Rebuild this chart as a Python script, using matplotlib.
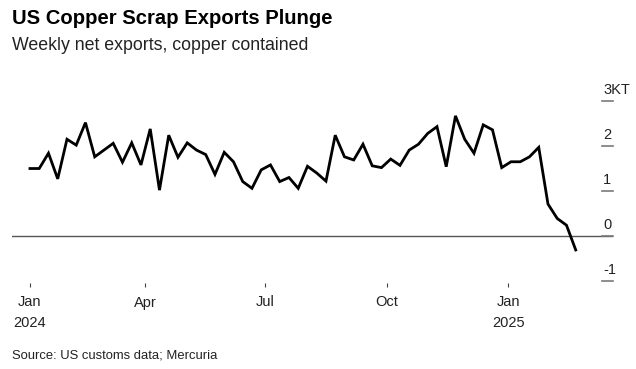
import matplotlib
matplotlib.use('Agg')
import matplotlib.pyplot as plt
import matplotlib.transforms as mtransforms
import pandas as pd

width = 636
height = 369
dpi = 100
figsize = (width/dpi, height/dpi)

# weekly net exports, thousand tonnes copper contained
dates = pd.date_range('2024-01-05', periods=60, freq='W-FRI')
exports = [
    1.50, 1.50, 1.84, 1.27, 2.15, 2.02, 2.52, 1.76, 1.91, 2.06,
    1.64, 2.07, 1.58, 2.38, 1.02, 2.24, 1.75, 2.07, 1.91, 1.81,
    1.37, 1.86, 1.65, 1.21, 1.06, 1.47, 1.58, 1.21, 1.30, 1.06,
    1.55, 1.40, 1.22, 2.24, 1.76, 1.69, 2.04, 1.56, 1.52, 1.71,
    1.57, 1.91, 2.04, 2.28, 2.43, 1.54, 2.67, 2.15, 1.84, 2.47,
    2.36, 1.52, 1.65, 1.65, 1.76, 1.97, 0.71, 0.39, 0.24, -0.31,
]

y_ticks = [3, 2, 1, 0, -1]
y_labels = ['3KT', '2', '1', '0', '-1']
x_ticks = pd.to_datetime(['2024-01-05', '2024-04-01', '2024-07-01',
                          '2024-10-01', '2025-01-01'])
x_labels = ['Jan\n2024', 'Apr', 'Jul', 'Oct', 'Jan\n2025']

plt.rcParams['font.family'] = ['Liberation Sans', 'DejaVu Sans']

fig = plt.figure(figsize=figsize, dpi=dpi)
ax = fig.add_axes([12/636, 1 - 283/369, 601/636, 203/369])

ax.axhline(0, color='#555555', linewidth=1.0, zorder=1)
ax.plot(dates, exports, color='black', linewidth=2.0, solid_joinstyle='miter', zorder=3)

ax.set_ylim(-1.044, 3.467)
ax.set_xlim(dates[0] - pd.Timedelta(days=13.6), dates[0] + pd.Timedelta(days=441.2))

# right-hand value stubs with labels above them
trans = mtransforms.blended_transform_factory(ax.transAxes, ax.transData)
stub_start = 590/601
for val, lab in zip(y_ticks, y_labels):
    ax.plot([stub_start, 1.0], [val, val], transform=trans, color='#7a7a7a',
            linewidth=1.2, clip_on=False, zorder=2)
    ax.text(stub_start + 0.002, val + 0.09, lab, transform=trans, fontsize=10.5,
            ha='left', va='bottom', color='#222222')

ax.set_yticks([])
ax.set_xticks(x_ticks)
ax.set_xticklabels(x_labels, fontsize=10.5, color='#222222', linespacing=1.6)
ax.tick_params(axis='x', length=3, width=0.8, color='#444444', pad=6)
for s in ax.spines.values():
    s.set_visible(False)

fig.text(12/636, 1 - 18/369, 'US Copper Scrap Exports Plunge', fontsize=14.6,
         fontweight='bold', ha='left', va='center', color='black')
fig.text(12/636, 1 - 45/369, 'Weekly net exports, copper contained', fontsize=12.8,
         ha='left', va='center', color='#222222')
fig.text(12/636, 1 - 355/369, 'Source: US customs data; Mercuria', fontsize=9.4,
         ha='left', va='center', color='#222222')

fig.savefig('out.png', dpi=dpi)
